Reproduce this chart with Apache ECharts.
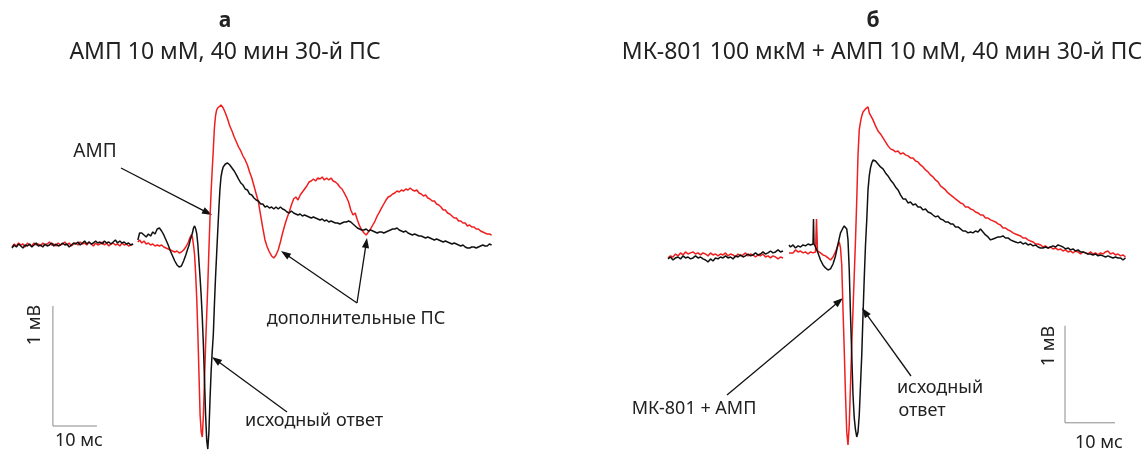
<!DOCTYPE html>
<html><head><meta charset="utf-8">
<script src="https://cdn.jsdelivr.net/npm/echarts@6/dist/echarts.min.js"></script>
<style>html,body{margin:0;padding:0;background:#fff}#c{width:1143px;height:454px}</style>
</head><body><div id="c"></div><script>
// ---- Panel а (time ms, potential mV) ----
const leftBlackPre = [[0,-0.067],[0.5,-0.042],[1,-0.058],[1.5,-0.033],[2,-0.05],[2.5,-0.067],[3,-0.042],[3.5,-0.05],[4,-0.033],[4.5,-0.058],
[5,-0.042],[5.5,-0.025],[6,-0.05],[6.5,-0.042],[7,-0.058],[7.5,-0.033],[8,-0.05],[8.5,-0.042],[9,-0.025],[9.5,-0.05],
[10,-0.033],[10.5,-0.05],[11,-0.042],[11.5,-0.025],[12,-0.042],[12.5,-0.033],[13,-0.058],[13.5,-0.042],[14,-0.025],[14.5,-0.033],
[15,-0.017],[15.5,-0.042],[16,-0.025],[16.5,-0.008],[17,-0.033],[17.5,-0.017],[18,-0.033],[18.5,-0.025],[19,-0.008],[19.5,-0.025],
[20,-0.017],[20.5,-0.033],[21,-0.008],[21.5,-0.025],[22,-0.017],[22.5,-0.033],[23,-0.017],[23.5,0],[24,-0.025],[24.5,-0.008],
[25,-0.025],[25.5,-0.017],[26,-0.033],[26.5,-0.025],[27,-0.042],[27.5,-0.033]];
const leftBlackPost = [[28.6,0],[29,0.058],[29.5,0.058],[30,0.042],[30.5,0.025],[31,0.05],[31.5,0.033],[32,0.067],[32.5,0.05],[33,0.092],[33.5,0.1],[34,0.075],[34.5,0.042],[35,0],[35.5,-0.042],[36,-0.092],[36.5,-0.133],[37,-0.175],[37.5,-0.208],[38,-0.225],[38.5,-0.217],[39,-0.175],[39.5,-0.125],[40,-0.067],[40.25,-0.042],[40.5,0],[40.75,0.025],[41,0.058],[41.25,0.1],[41.5,0.117],[41.75,0.092],[42,0.05],[42.25,-0.042],[42.5,-0.183],[42.75,-0.317],[43,-0.467],[43.25,-0.65],[43.5,-0.875],[43.75,-1.167],[44,-1.458],[44.25,-1.667],[44.5,-1.742],[44.75,-1.6],[45,-1.333],[45.25,-1.1],[45.5,-0.933],[45.75,-0.792],[46,-0.542],[46.25,-0.317],[46.5,-0.125],[46.75,0.067],[47,0.25],[47.25,0.417],[47.5,0.525],[47.75,0.575],[48,0.608],[48.5,0.633],[49,0.642],[49.5,0.625],[50,0.6],[50.5,0.575],[51,0.542],[51.5,0.508],[52,0.475],[52.5,0.458],[53,0.425],[53.5,0.417],[54,0.383],[54.5,0.375],[55,0.35],[55.5,0.333],[56,0.325],[56.5,0.3],[57,0.3],[57.5,0.275],[58,0.283],[58.5,0.267],[59,0.275],[59.5,0.258],
[60,0.275],[60.5,0.258],[61,0.275],[61.5,0.258],[62,0.25],[62.5,0.233],[63,0.225],[63.5,0.242],[64,0.225],[64.5,0.217],[65,0.208],[65.5,0.217],[66,0.2],[66.5,0.208],[67,0.2],[67.5,0.192],[68,0.183],[68.5,0.192],[69,0.183],[69.5,0.175],[70,0.167],[70.5,0.175],[71,0.158],[71.5,0.167],[72,0.15],[72.5,0.158],[73,0.15],[73.5,0.142],[74,0.142],[74.5,0.133],[75,0.142],[75.5,0.15],[76,0.15],[76.5,0.158],[77,0.15],[77.5,0.133],[78,0.117],[78.5,0.1],[79,0.092],[79.5,0.083],[80,0.083],[80.5,0.092],[81,0.075],[81.5,0.083],[82,0.075],[82.5,0.067],[83,0.058],[83.5,0.067],[84,0.067],[84.5,0.058],[85,0.067],[85.5,0.075],[86,0.083],[86.5,0.092],[87,0.092],[87.5,0.1],[88,0.083],[88.5,0.075],[89,0.067],[89.5,0.075],[90,0.058],[90.5,0.05],[91,0.042],[91.5,0.05],[92,0.042],[92.5,0.033],[93,0.033],[93.5,0.025],[94,0.017],[94.5,0.025],[95,0.017],[95.5,0.008],[96,0],[96.5,0.008],[97,0],[97.5,-0.008],[98,-0.017],[98.5,-0.008],[99,-0.017],[99.5,-0.025],[100,-0.033],[100.5,-0.025],[101,-0.033],[101.5,-0.042],[102,-0.05],[102.5,-0.042],[103,-0.058],[103.5,-0.067],[104,-0.067],[104.5,-0.058],[105,-0.058],[105.5,-0.067],[106,-0.058],[106.5,-0.05],[107,-0.042],[107.5,-0.05],[108,-0.05],[108.5,-0.033],[109,-0.042]];
const leftRedPre = [[0,-0.058],[0.5,-0.033],[1,-0.05],[1.5,-0.025],[2,-0.042],[2.5,-0.033],[3,-0.058],[3.5,-0.025],[4,-0.042],[4.5,-0.05],
[5,-0.025],[5.5,-0.042],[6,-0.033],[6.5,-0.05],[7,-0.025],[7.5,-0.042],[8,-0.033],[8.5,-0.017],[9,-0.042],[9.5,-0.033],
[10,-0.05],[10.5,-0.025],[11,-0.042],[11.5,-0.033],[12,-0.017],[12.5,-0.042],[13,-0.025],[13.5,-0.05],[14,-0.033],[14.5,-0.025],
[15,-0.042],[15.5,-0.017],[16,-0.033],[16.5,-0.025],[17,-0.042],[17.5,-0.017],[18,-0.033],[18.5,-0.05],[19,-0.025],[19.5,-0.042],
[20,-0.033],[20.5,-0.017],[21,-0.042],[21.5,-0.025],[22,-0.05],[22.5,-0.033],[23,-0.025],[23.5,-0.042],[24,-0.033],[24.5,-0.05],
[25,-0.025],[25.5,-0.042],[26,-0.033],[26.5,-0.05],[27,-0.042],[27.5,-0.033]];
const leftRedPost = [[28.6,-0.017],[29,0],[29.5,-0.025],[30,-0.008],[30.5,-0.033],[31,-0.025],[31.5,-0.042],[32,-0.033],[32.5,-0.05],[33,-0.042],[33.5,-0.05],[34,-0.042],[34.5,-0.058],[35,-0.067],[35.5,-0.075],[36,-0.083],[36.5,-0.092],[37,-0.1],[37.5,-0.092],[38,-0.108],[38.5,-0.1],[39,-0.083],[39.5,-0.058],[40,-0.025],[40.25,0],[40.5,0.025],[40.75,0.042],[41,0.025],[41.25,-0.042],[41.5,-0.125],[41.75,-0.292],[42,-0.5],[42.25,-0.792],[42.5,-1.125],[42.75,-1.458],[43,-1.6],[43.25,-1.642],[43.5,-1.458],[43.75,-1.167],[44,-0.875],[44.25,-0.625],[44.5,-0.375],[44.75,-0.083],[45,0.183],[45.25,0.4],[45.5,0.583],[45.75,0.75],[46,0.933],[46.25,1.033],[46.5,1.083],[46.75,1.1],[47,1.108],[47.5,1.125],[48,1.1],[48.5,1.058],[49,1.008],[49.5,0.95],[50,0.908],[50.5,0.858],[51,0.817],[51.5,0.775],[52,0.742],[52.5,0.7],[53,0.667],[53.5,0.625],[54,0.567],[54.5,0.517],[55,0.45],[55.5,0.383],[56,0.317],[56.5,0.208],[57,0.1],[57.5,0],[58,-0.058],[58.5,-0.1],[59,-0.133],[59.5,-0.15],[60,-0.125],[60.5,-0.083],[61,-0.017],[61.5,0.058],[62,0.125],[62.5,0.183],[63,0.233],[63.5,0.292],[64,0.342],[64.5,0.358],[65,0.333],[65.5,0.375],[66,0.4],[66.5,0.425],[67,0.45],[67.5,0.483],[68,0.492],[68.5,0.508],[69,0.492],[69.5,0.517],[70,0.508],[70.5,0.525],[71,0.5],[71.5,0.517],[72,0.5],[72.5,0.517],[73,0.492],[73.5,0.483],[74,0.467],[74.5,0.442],[75,0.425],[75.5,0.392],[76,0.358],[76.5,0.317],[77,0.25],[77.5,0.208],[78,0.225],[78.5,0.167],[79,0.117],[79.5,0.083],[80,0.058],[80.5,0.042],[81,0.067],[81.5,0.092],[82,0.125],[82.5,0.158],[83,0.2],[83.5,0.233],[84,0.267],[84.5,0.3],[85,0.333],[85.5,0.358],[86,0.367],[86.5,0.383],[87,0.392],[87.5,0.408],[88,0.4],[88.5,0.417],[89,0.408],[89.5,0.425],[90,0.417],[90.5,0.433],[91,0.417],[91.5,0.408],[92,0.417],[92.5,0.392],[93,0.383],[93.5,0.367],[94,0.375],[94.5,0.35],[95,0.342],[95.5,0.325],[96,0.325],[96.5,0.3],[97,0.292],[97.5,0.275],[98,0.25],[98.5,0.25],[99,0.225],[99.5,0.217],[100,0.2],[100.5,0.183],[101,0.183],[101.5,0.158],[102,0.158],[102.5,0.142],[103,0.142],[103.5,0.117],[104,0.125],[104.5,0.108],[105,0.108],[105.5,0.092],[106,0.092],[106.5,0.075],[107,0.067],[107.5,0.058],[108,0.05],[108.5,0.05],[109,0.042]];

// ---- Panel б (time ms, potential mV) ----
const rightBlackPre = [[0,-0.041],[0.5,-0.021],[1,-0.052],[1.5,-0.031],[2,-0.021],[2.5,-0.041],[3,-0.010],[3.5,-0.031],[4,-0.021],[4.5,-0.041],
[5,-0.031],[5.5,-0.010],[6,-0.031],[6.5,-0.021],[7,-0.041],[7.5,-0.052],[8,-0.072],[8.5,-0.041],[9,-0.062],[9.5,-0.031],
[10,-0.041],[10.5,-0.021],[11,-0.031],[11.5,-0.010],[12,-0.031],[12.5,-0.021],[13,-0.041],[13.5,-0.010],[14,-0.021],[14.5,0],
[15,-0.021],[15.5,-0.010],[16,0.010],[16.5,-0.010],[17,0],[17.5,0.021],[18,0],[18.5,0.010],[19,0.031],[19.5,0.010],
[20,0.021],[20.5,0.041],[21,0.021],[21.5,0.031],[22,0.052],[22.5,0.031],[23,0.041]];
const rightBlackPost = [[24.2,0.103],[24.5,0.082],[25,0.103],[25.5,0.072],[26,0.093],[26.5,0.082],[27,0.103],[27.5,0.093],[28,0.113],[28.5,0.103],[29,0.113],[29.1,0.371],[29.2,0.113],[29.5,0.082],[30,0.021],[30.5,-0.052],[31,-0.103],[31.5,-0.134],[32,-0.155],[32.5,-0.144],[33,-0.093],[33.5,-0.010],[34,0.113],[34.5,0.227],[35,0.278],[35.25,0.299],[35.5,0.299],[35.75,0.268],[36,0.155],[36.25,-0.155],[36.5,-0.619],[36.75,-1.031],[37,-1.443],[37.25,-1.680],[37.5,-1.804],[37.75,-1.876],[38,-1.825],[38.25,-1.649],[38.5,-1.340],[38.75,-1.031],[39,-0.619],[39.25,-0.237],[39.5,0.103],[39.75,0.361],[40,0.670],[40.25,0.814],[40.5,0.897],[40.75,0.948],[41,0.979],[41.5,0.969],[42,0.938],[42.5,0.907],[43,0.887],[43.5,0.845],[44,0.814],[44.5,0.773],[45,0.742],[45.5,0.701],[46,0.670],[46.5,0.619],[47,0.577],[47.5,0.577],[48,0.536],[48.5,0.546],[49,0.515],[49.5,0.526],[50,0.495],[50.5,0.495],[51,0.464],[51.5,0.474],[52,0.443],[52.5,0.433],[53,0.412],[53.5,0.392],[54,0.402],[54.5,0.371],[55,0.361],[55.5,0.340],[56,0.340],[56.5,0.320],[57,0.320],[57.5,0.289],[58,0.289],[58.5,0.268],[59,0.247],[59.5,0.247],[60,0.227],[60.5,0.237],[61,0.227],[61.5,0.247],[62,0.237],[62.5,0.268],[63,0.237],[63.5,0.206],[64,0.186],[64.5,0.155],[65,0.165],[65.5,0.175],[66,0.186],[66.5,0.186],[67,0.196],[67.5,0.175],[68,0.175],[68.5,0.155],[69,0.144],[69.5,0.134],[70,0.124],[70.5,0.134],[71,0.113],[71.5,0.124],[72,0.103],[72.5,0.113],[73,0.093],[73.5,0.103],[74,0.082],[74.5,0.072],[75,0.072],[75.5,0.082],[76,0.072],[76.5,0.082],[77,0.093],[77.5,0.082],[78,0.103],[78.5,0.093],[79,0.082],[79.5,0.062],[80,0.072],[80.5,0.052],[81,0.062],[81.5,0.041],[82,0.052],[82.5,0.031],[83,0.031],[83.5,0.021],[84,0.010],[84.5,0.010],[85,0],[85.5,0.010],[86,-0.010],[86.5,0],[87,-0.010],[87.5,-0.021],[88,-0.010],[88.5,-0.021],[89,-0.031],[89.5,-0.021],[90,-0.031],[90.5,-0.031],[91,-0.052],[91.5,-0.031]];
const rightRedPre = [[0,-0.031],[0.5,-0.010],[1,-0.021],[1.5,0.010],[2,-0.010],[2.5,0.021],[3,0],[3.5,0.031],[4,0.010],[4.5,0.021],
[5,0.031],[5.5,0.010],[6,0.021],[6.5,0],[7,0.021],[7.5,0.010],[8,-0.010],[8.5,0.021],[9,0],[9.5,0.010],
[10,-0.010],[10.5,0.010],[11,0],[11.5,0.021],[12,-0.010],[12.5,0.010],[13,0],[13.5,-0.021],[14,0.010],[14.5,-0.010],
[15,0],[15.5,0.021],[16,-0.010],[16.5,0.010],[17,0],[17.5,-0.021],[18,0],[18.5,-0.010],[19,0.010],[19.5,-0.021],
[20,-0.010],[20.5,-0.031],[21,-0.010],[21.5,-0.021],[22,-0.041],[22.5,-0.021],[23,-0.031]];
const rightRedPost = [[24.2,0.021],[24.5,0.041],[25,0.021],[25.5,0.052],[26,0.031],[26.5,0.041],[27,0.021],[27.5,0.031],[28,0.010],[28.5,0.031],[29,0.021],[29.5,0.031],[29.7,0.371],[29.9,0.041],[30.5,0.021],[31,0],[31.5,-0.010],[32,-0.031],[32.5,-0.052],[33,-0.021],[33.5,0.031],[34,0.103],[34.25,0.134],[34.5,0.072],[34.75,-0.103],[35,-0.567],[35.25,-0.979],[35.5,-1.443],[35.75,-1.825],[36,-1.959],[36.25,-1.753],[36.5,-1.340],[36.75,-0.928],[37,-0.567],[37.25,-0.206],[37.5,0.155],[37.75,0.567],[38,1.031],[38.25,1.289],[38.5,1.371],[38.75,1.433],[39,1.474],[39.5,1.505],[40,1.526],[40.25,1.464],[40.5,1.454],[41,1.392],[41.5,1.330],[42,1.278],[42.5,1.247],[43,1.206],[43.5,1.165],[44,1.124],[44.5,1.093],[45,1.082],[45.5,1.062],[46,1.072],[46.5,1.041],[47,1.052],[47.5,1.031],[48,1.021],[48.5,1.000],[49,1.000],[49.5,0.969],[50,0.959],[50.5,0.928],[51,0.907],[51.5,0.876],[52,0.856],[52.5,0.825],[53,0.804],[53.5,0.773],[54,0.753],[54.5,0.711],[55,0.691],[55.5,0.670],[56,0.639],[56.5,0.619],[57,0.598],[57.5,0.577],[58,0.557],[58.5,0.536],[59,0.526],[59.5,0.495],[60,0.495],[60.5,0.474],[61,0.464],[61.5,0.443],[62,0.433],[62.5,0.412],[63,0.412],[63.5,0.381],[64,0.381],[64.5,0.361],[65,0.351],[65.5,0.340],[66,0.320],[66.5,0.309],[67,0.278],[67.5,0.278],[68,0.258],[68.5,0.247],[69,0.227],[69.5,0.216],[70,0.206],[70.5,0.196],[71,0.175],[71.5,0.175],[72,0.155],[72.5,0.144],[73,0.134],[73.5,0.113],[74,0.113],[74.5,0.103],[75,0.082],[75.5,0.093],[76,0.072],[76.5,0.082],[77,0.062],[77.5,0.072],[78,0.052],[78.5,0.062],[79,0.041],[79.5,0.052],[80,0.031],[80.5,0.041],[81,0.021],[81.5,0.041],[82,0.031],[82.5,0.010],[83,0.031],[83.5,0.021],[84,0.010],[84.5,0.031],[85,0.010],[85.5,0.021],[86,0],[86.5,0.021],[87,0.010],[87.5,0.031],[88,0.041],[88.5,0.010],[89,0.021],[89.5,0],[90,0.010],[90.5,-0.010],[91,0],[91.5,-0.021]];

// scale bars: 10 ms x 1 mV
const leftScaleBar = [[9.3,-0.55],[9.3,-1.55],[19.3,-1.55]];
const rightScaleBar = [[79.4,-0.73],[79.4,-1.73],[89.4,-1.73]];

// texts
const panelLetters = ['а','б'];
const panelTitles = ['АМП 10 мМ, 40 мин 30-й ПС','МК-801 100 мкМ + АМП 10 мМ, 40 мин 30-й ПС'];
const scaleLabels = ['1 мВ','10 мс'];

const FONT = '"Noto Sans", "Open Sans", sans-serif';
const RED = '#f01e1e', BLACK = '#111111';

function trace(data, color, gi, z){
  return {type:'line', xAxisIndex:gi, yAxisIndex:gi, data, symbol:'none', showSymbol:false,
    lineStyle:{color, width:1.5}, silent:true, animation:false, z};
}
function bar(data, gi){
  return {type:'line', xAxisIndex:gi, yAxisIndex:gi, data, symbol:'none', showSymbol:false,
    lineStyle:{color:'#8a8a8a', width:1}, silent:true, animation:false, z:1};
}
function txt(x, y, text, size, opts){
  opts = opts || {};
  return {type:'text', x, y, rotation: opts.rot || 0, silent:true,
    style:{text, font:(opts.bold?'bold ':'')+size+'px '+FONT, fill:'#222',
      align:'center', verticalAlign:'middle', textAlign:'center', textVerticalAlign:'middle'}};
}
function arrow(x1,y1,x2,y2){
  const dx=x2-x1, dy=y2-y1, L=Math.hypot(dx,dy), ux=dx/L, uy=dy/L, hl=10, hw=3.6;
  const bx=x2-ux*hl, by=y2-uy*hl;
  return [
    {type:'line', silent:true, shape:{x1,y1,x2:bx+ux*2,y2:by+uy*2}, style:{stroke:'#111', lineWidth:1.3}},
    {type:'polygon', silent:true, shape:{points:[[x2,y2],[bx-uy*hw,by+ux*hw],[bx+uy*hw,by-ux*hw]]}, style:{fill:'#111'}}
  ];
}

const chart = echarts.init(document.getElementById('c'));
const graphics = [
  txt(225,21,panelLetters[0],21,{bold:true}),
  txt(225,52,panelTitles[0],23),
  txt(873,21,panelLetters[1],21,{bold:true}),
  txt(882,52,panelTitles[1],23),
  txt(95,152,'АМП',19),
  txt(356,319,'дополнительные ПС',18),
  txt(314,421,'исходный ответ',18),
  txt(694,409,'МК-801 + АМП',18),
  txt(940,388,'исходный',18),
  txt(922,411,'ответ',18),
  txt(35,325,scaleLabels[0],18,{rot:Math.PI/2}),
  txt(79,441,scaleLabels[1],18),
  txt(1049,346,scaleLabels[0],18,{rot:Math.PI/2}),
  txt(1099,443,scaleLabels[1],18)
].concat(
  arrow(121,168,212,215),
  arrow(357,303,281,251),
  arrow(357,303,367,238),
  arrow(287,412,212,357),
  arrow(727,395,843,298),
  arrow(911,376,862,308)
);

chart.setOption({
  animation:false,
  backgroundColor:'#ffffff',
  grid:[
    {left:12, top:90, width:484, height:360},
    {left:668, top:90, width:475, height:359}
  ],
  xAxis:[
    {type:'value', gridIndex:0, min:0, max:110, show:false},
    {type:'value', gridIndex:1, min:0, max:95, show:false}
  ],
  yAxis:[
    {type:'value', gridIndex:0, min:-1.75, max:1.25, show:false},
    {type:'value', gridIndex:1, min:-2, max:1.7, show:false}
  ],
  series:[
    bar(leftScaleBar,0), bar(rightScaleBar,1),
    trace(leftRedPre,RED,0,2), trace(leftRedPost,RED,0,2),
    trace(leftBlackPre,BLACK,0,3), trace(leftBlackPost,BLACK,0,3),
    trace(rightRedPre,RED,1,2), trace(rightRedPost,RED,1,2),
    trace(rightBlackPre,BLACK,1,3), trace(rightBlackPost,BLACK,1,3)
  ],
  graphic:graphics
});
</script></body></html>
